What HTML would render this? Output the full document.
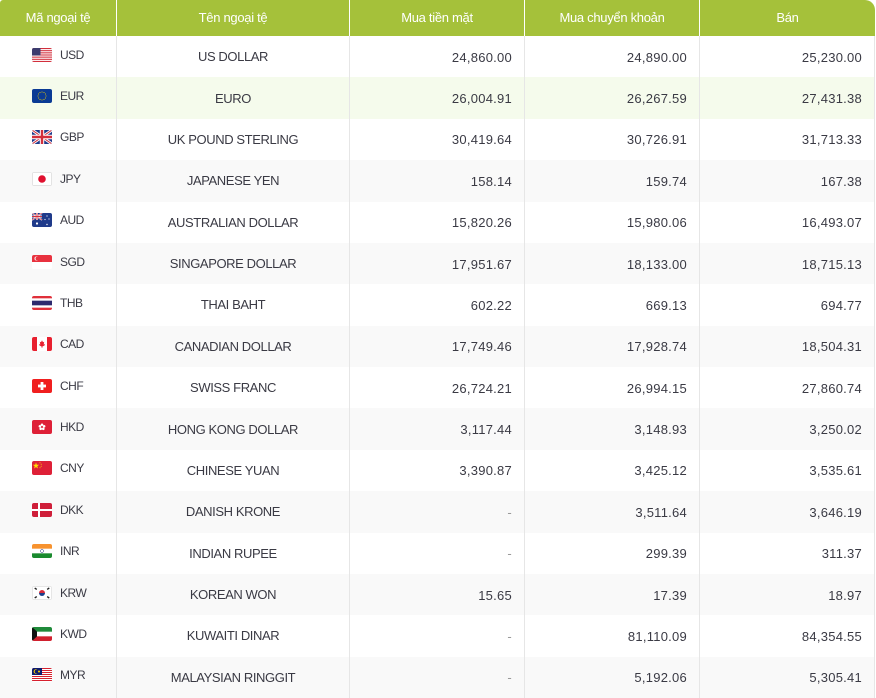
<!DOCTYPE html>
<html><head><meta charset="utf-8">
<style>
*{margin:0;padding:0;box-sizing:border-box}
html,body{width:876px;height:698px;background:#fff;overflow:hidden}
body{font-family:"Liberation Sans",sans-serif;color:#3a3a44}
.tbl{position:absolute;left:0;top:0;width:875px}
.row{display:grid;grid-template-columns:117px 233px 175px 175px 175px;height:41.375px}
.row>div{border-right:1px solid #e6e6e6;display:flex;align-items:center;font-size:13px}
.hd{height:36px;background:#a5c13a;border-radius:3px 10px 0 0;color:#fff}
.hd>div{border-right:1px solid #fff;justify-content:center;letter-spacing:-0.3px;padding-bottom:1px}
.hd>div:last-child{border-right:none}
.g{background:#f9f9f9}
.h{background:#f5fbec}
.c1{padding-left:32px;padding-bottom:4px;font-size:12px!important;letter-spacing:-0.5px}
.c1 svg{width:20px;height:14px;margin-right:8px;border-radius:2px;flex:none}
.c2{justify-content:center;letter-spacing:-0.4px}
.n{justify-content:flex-end;padding-right:12px;letter-spacing:0.25px;padding-top:1px}
.d{color:#9a9a9a}
</style></head><body>
<div class="tbl">
<div class="row hd"><div>Mã ngoại tệ</div><div>Tên ngoại tệ</div><div>Mua tiền mặt</div><div>Mua chuyển khoản</div><div>Bán</div></div>

<div class="row"><div class="c1"><svg viewBox="0 0 20 14"><rect width="20" height="14" fill="#fff"/><g fill="#d22f3c"><rect y="0" width="20" height="1.08"/><rect y="2.15" width="20" height="1.08"/><rect y="4.3" width="20" height="1.08"/><rect y="6.46" width="20" height="1.08"/><rect y="8.6" width="20" height="1.08"/><rect y="10.77" width="20" height="1.08"/><rect y="12.92" width="20" height="1.08"/></g><rect width="8.5" height="7.5" fill="#3c3b6e"/></svg>USD</div><div class="c2">US DOLLAR</div><div class="n">24,860.00</div><div class="n">24,890.00</div><div class="n">25,230.00</div></div>

<div class="row h"><div class="c1"><svg viewBox="0 0 20 14"><rect width="20" height="14" fill="#0a3a94"/><g fill="#f5d000"><circle cx="10" cy="3" r=".55"/><circle cx="12" cy="3.54" r=".55"/><circle cx="13.46" cy="5" r=".55"/><circle cx="14" cy="7" r=".55"/><circle cx="13.46" cy="9" r=".55"/><circle cx="12" cy="10.46" r=".55"/><circle cx="10" cy="11" r=".55"/><circle cx="8" cy="10.46" r=".55"/><circle cx="6.54" cy="9" r=".55"/><circle cx="6" cy="7" r=".55"/><circle cx="6.54" cy="5" r=".55"/><circle cx="8" cy="3.54" r=".55"/></g></svg>EUR</div><div class="c2">EURO</div><div class="n">26,004.91</div><div class="n">26,267.59</div><div class="n">27,431.38</div></div>

<div class="row"><div class="c1"><svg viewBox="0 0 20 14"><rect width="20" height="14" fill="#1f3a8a"/><path d="M0 0L20 14M20 0L0 14" stroke="#fff" stroke-width="2.8"/><path d="M0 0L20 14M20 0L0 14" stroke="#d22f3c" stroke-width="1"/><path d="M10 0V14M0 7H20" stroke="#fff" stroke-width="4.4"/><path d="M10 0V14M0 7H20" stroke="#d22f3c" stroke-width="2.4"/></svg>GBP</div><div class="c2">UK POUND STERLING</div><div class="n">30,419.64</div><div class="n">30,726.91</div><div class="n">31,713.33</div></div>

<div class="row g"><div class="c1"><svg viewBox="0 0 20 14"><rect x=".5" y=".5" width="19" height="13" fill="#fff" stroke="#e3e3e3"/><circle cx="10" cy="7" r="3.8" fill="#e0102f"/></svg>JPY</div><div class="c2">JAPANESE YEN</div><div class="n">158.14</div><div class="n">159.74</div><div class="n">167.38</div></div>

<div class="row"><div class="c1"><svg viewBox="0 0 20 14"><rect width="20" height="14" fill="#1f3a8a"/><path d="M0 0L10 7M10 0L0 7" stroke="#fff" stroke-width="1.5"/><path d="M0 0L10 7M10 0L0 7" stroke="#d22f3c" stroke-width=".6"/><path d="M5 0V7M0 3.5H10" stroke="#fff" stroke-width="2"/><path d="M5 0V7M0 3.5H10" stroke="#d22f3c" stroke-width="1"/><g fill="#fff"><circle cx="5" cy="10.5" r="1.1"/><circle cx="15" cy="3" r=".6"/><circle cx="13" cy="6.5" r=".6"/><circle cx="17" cy="6" r=".6"/><circle cx="15" cy="11.5" r=".7"/></g></svg>AUD</div><div class="c2">AUSTRALIAN DOLLAR</div><div class="n">15,820.26</div><div class="n">15,980.06</div><div class="n">16,493.07</div></div>

<div class="row g"><div class="c1"><svg viewBox="0 0 20 14"><rect width="20" height="14" fill="#fff"/><rect width="20" height="7" fill="#e8323f"/><circle cx="4.5" cy="3.5" r="2" fill="#fff"/><circle cx="5.3" cy="3.5" r="1.8" fill="#e8323f"/></svg>SGD</div><div class="c2">SINGAPORE DOLLAR</div><div class="n">17,951.67</div><div class="n">18,133.00</div><div class="n">18,715.13</div></div>

<div class="row"><div class="c1"><svg viewBox="0 0 20 14"><rect width="20" height="14" fill="#e0303a"/><rect y="2.33" width="20" height="9.34" fill="#fff"/><rect y="4.67" width="20" height="4.66" fill="#2d2a6e"/></svg>THB</div><div class="c2">THAI BAHT</div><div class="n">602.22</div><div class="n">669.13</div><div class="n">694.77</div></div>

<div class="row g"><div class="c1"><svg viewBox="0 0 20 14"><rect width="20" height="14" fill="#fff"/><rect width="5" height="14" fill="#e8202f"/><rect x="15" width="5" height="14" fill="#e8202f"/><path d="M10 3.2L11 5.2L12.2 4.8L11.7 7.6L13 7L12.6 8.4L10.3 9.6V11H9.7V9.6L7.4 8.4L7 7L8.3 7.6L7.8 4.8L9 5.2Z" fill="#e8202f"/></svg>CAD</div><div class="c2">CANADIAN DOLLAR</div><div class="n">17,749.46</div><div class="n">17,928.74</div><div class="n">18,504.31</div></div>

<div class="row"><div class="c1"><svg viewBox="0 0 20 14"><rect width="20" height="14" fill="#f01f1f"/><rect x="8.6" y="3" width="2.8" height="8" fill="#fff"/><rect x="6" y="5.6" width="8" height="2.8" fill="#fff"/></svg>CHF</div><div class="c2">SWISS FRANC</div><div class="n">26,724.21</div><div class="n">26,994.15</div><div class="n">27,860.74</div></div>

<div class="row g"><div class="c1"><svg viewBox="0 0 20 14"><rect width="20" height="14" fill="#de2037"/><g fill="#fff"><circle cx="10" cy="4.8" r="1.3"/><circle cx="12.1" cy="6.3" r="1.3"/><circle cx="11.3" cy="8.8" r="1.3"/><circle cx="8.7" cy="8.8" r="1.3"/><circle cx="7.9" cy="6.3" r="1.3"/></g><circle cx="10" cy="7" r=".7" fill="#de2037"/></svg>HKD</div><div class="c2">HONG KONG DOLLAR</div><div class="n">3,117.44</div><div class="n">3,148.93</div><div class="n">3,250.02</div></div>

<div class="row"><div class="c1"><svg viewBox="0 0 20 14"><rect width="20" height="14" fill="#de2037"/><path d="M4 1.5L4.8 3.8L7.2 3.8L5.3 5.2L6 7.5L4 6.1L2 7.5L2.7 5.2L0.8 3.8L3.2 3.8Z" fill="#ffde00"/><g fill="#ffde00"><circle cx="8" cy="1.8" r=".5"/><circle cx="9.2" cy="3.3" r=".5"/><circle cx="9.2" cy="5.3" r=".5"/><circle cx="8" cy="6.8" r=".5"/></g></svg>CNY</div><div class="c2">CHINESE YUAN</div><div class="n">3,390.87</div><div class="n">3,425.12</div><div class="n">3,535.61</div></div>

<div class="row g"><div class="c1"><svg viewBox="0 0 20 14"><rect width="20" height="14" fill="#cf1f3a"/><rect x="6" width="2" height="14" fill="#fff"/><rect y="6" width="20" height="2" fill="#fff"/></svg>DKK</div><div class="c2">DANISH KRONE</div><div class="n d">-</div><div class="n">3,511.64</div><div class="n">3,646.19</div></div>

<div class="row"><div class="c1"><svg viewBox="0 0 20 14"><rect width="20" height="14" fill="#fff"/><rect width="20" height="4.67" fill="#f7922e"/><rect y="9.33" width="20" height="4.67" fill="#1a8a2e"/><circle cx="10" cy="7" r="1.5" fill="none" stroke="#1c2a7a" stroke-width=".5"/></svg>INR</div><div class="c2">INDIAN RUPEE</div><div class="n d">-</div><div class="n">299.39</div><div class="n">311.37</div></div>

<div class="row g"><div class="c1"><svg viewBox="0 0 20 14"><rect x=".5" y=".5" width="19" height="13" fill="#fff" stroke="#e6e6e6"/><path d="M7 7A3 3 0 0 1 13 7Z" fill="#d72a3a"/><path d="M7 7A3 3 0 0 0 13 7Z" fill="#1a3f8c"/><g fill="#222"><rect x="2.5" y="2" width="2.5" height="1.4" transform="rotate(35 3.7 2.7)"/><rect x="15" y="2" width="2.5" height="1.4" transform="rotate(-35 16.2 2.7)"/><rect x="2.5" y="10.6" width="2.5" height="1.4" transform="rotate(-35 3.7 11.3)"/><rect x="15" y="10.6" width="2.5" height="1.4" transform="rotate(35 16.2 11.3)"/></g></svg>KRW</div><div class="c2">KOREAN WON</div><div class="n">15.65</div><div class="n">17.39</div><div class="n">18.97</div></div>

<div class="row"><div class="c1"><svg viewBox="0 0 20 14"><rect width="20" height="14" fill="#fff"/><rect width="20" height="4.67" fill="#1f8a3a"/><rect y="9.33" width="20" height="4.67" fill="#d0202e"/><path d="M0 0L5 4.67V9.33L0 14Z" fill="#111"/></svg>KWD</div><div class="c2">KUWAITI DINAR</div><div class="n d">-</div><div class="n">81,110.09</div><div class="n">84,354.55</div></div>

<div class="row g"><div class="c1"><svg viewBox="0 0 20 14"><rect width="20" height="14" fill="#fff"/><g fill="#d7202e"><rect y="0" width="20" height="1"/><rect y="2" width="20" height="1"/><rect y="4" width="20" height="1"/><rect y="6" width="20" height="1"/><rect y="8" width="20" height="1"/><rect y="10" width="20" height="1"/><rect y="12" width="20" height="1"/></g><rect width="10" height="7" fill="#0d1b6e"/><circle cx="3.8" cy="3.5" r="2.2" fill="#ffcc00"/><circle cx="4.5" cy="3.5" r="1.8" fill="#0d1b6e"/><circle cx="7" cy="3.5" r="1" fill="#ffcc00"/></svg>MYR</div><div class="c2">MALAYSIAN RINGGIT</div><div class="n d">-</div><div class="n">5,192.06</div><div class="n">5,305.41</div></div>
</div>
</body></html>
